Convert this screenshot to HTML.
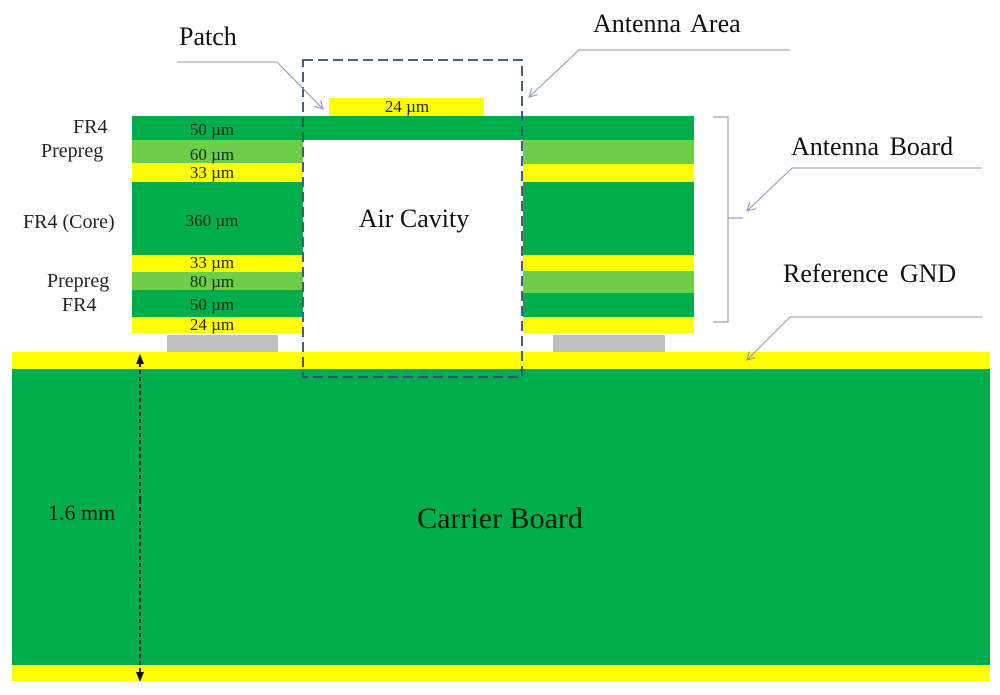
<!DOCTYPE html>
<html>
<head>
<meta charset="utf-8">
<style>
  html,body{margin:0;padding:0;background:#fff;}
  svg{display:block;}
  text{font-family:"Liberation Serif", "DejaVu Serif", serif;}
</style>
</head>
<body>
<svg width="1000" height="695" viewBox="0 0 1000 695" xmlns="http://www.w3.org/2000/svg">
  <defs>
    <marker id="open" viewBox="0 0 10 10" refX="9" refY="5" markerWidth="9" markerHeight="9" orient="auto" markerUnits="userSpaceOnUse">
      <path d="M0,0 L9,5 L0,10" fill="none" stroke="#8a9ab8" stroke-width="1.2"/>
    </marker>
    <marker id="solid" viewBox="0 0 10 10" refX="9" refY="5" markerWidth="10" markerHeight="10" orient="auto" markerUnits="userSpaceOnUse">
      <path d="M0,1 L10,5 L0,9 Z" fill="#111"/>
    </marker>
  </defs>

  <!-- Carrier board -->
  <rect x="12" y="352" width="978" height="17" fill="#ffff00"/>
  <rect x="12" y="369" width="978" height="296" fill="#00ad4d"/>
  <rect x="12" y="665" width="978" height="16" fill="#ffff00"/>

  <!-- Gray pads -->
  <rect x="167" y="335" width="111" height="17" fill="#bfbfbf"/>
  <rect x="553" y="335" width="112" height="17" fill="#bfbfbf"/>

  <!-- Top FR4 across -->
  <rect x="132" y="116" width="562" height="24" fill="#00ad4d"/>
  <!-- Patch -->
  <rect x="329" y="98" width="155" height="18" fill="#ffff00"/>

  <!-- Left stack -->
  <rect x="132" y="140" width="171" height="23" fill="#6ccf47"/>
  <rect x="132" y="163" width="171" height="19" fill="#ffff00"/>
  <rect x="132" y="182" width="171" height="73" fill="#00ad4d"/>
  <rect x="132" y="255" width="171" height="17" fill="#ffff00"/>
  <rect x="132" y="272" width="171" height="18" fill="#6ccf47"/>
  <rect x="132" y="290" width="171" height="27" fill="#00ad4d"/>
  <rect x="132" y="317" width="171" height="16" fill="#ffff00"/>

  <!-- Right stack -->
  <rect x="523" y="140" width="171" height="24" fill="#6ccf47"/>
  <rect x="523" y="164" width="171" height="18" fill="#ffff00"/>
  <rect x="523" y="182" width="171" height="73" fill="#00ad4d"/>
  <rect x="523" y="255" width="171" height="16" fill="#ffff00"/>
  <rect x="523" y="271" width="171" height="22" fill="#6ccf47"/>
  <rect x="523" y="293" width="171" height="24" fill="#00ad4d"/>
  <rect x="523" y="317" width="171" height="16" fill="#ffff00"/>

  <!-- Air cavity white -->
  <rect x="303" y="140" width="220" height="212" fill="#ffffff"/>

  <!-- Dashed antenna area -->
  <rect x="303" y="60" width="219" height="317" fill="none" stroke="#2f4d78" stroke-width="1.8" stroke-dasharray="10,5"/>

  <!-- Bracket -->
  <path d="M713,117 L728,117 L728,322 L713,322 M728,218 L743,218" fill="none" stroke="#9aa0b0" stroke-width="1.2"/>

  <!-- Callouts -->
  <path d="M177,62 L277,62 L323,109" fill="none" stroke="#8a9ab8" stroke-width="1.1" marker-end="url(#open)"/>
  <path d="M790,50 L579,50 L529,97" fill="none" stroke="#8a9ab8" stroke-width="1.1" marker-end="url(#open)"/>
  <path d="M982,168 L792,168 L747,211" fill="none" stroke="#8a9ab8" stroke-width="1.1" marker-end="url(#open)"/>
  <path d="M982,317 L790,317 L747,360" fill="none" stroke="#8a9ab8" stroke-width="1.1" marker-end="url(#open)"/>

  <!-- Dimension arrow -->
  <line x1="140" y1="500" x2="140" y2="355" stroke="#111" stroke-width="1.8" stroke-dasharray="4,3" marker-end="url(#solid)"/>
  <line x1="140" y1="500" x2="140" y2="681" stroke="#111" stroke-width="1.8" stroke-dasharray="4,3" marker-end="url(#solid)"/>

  <!-- Big labels -->
  <text x="179" y="45" font-size="26" fill="#111">Patch</text>
  <text x="593" y="32" font-size="26" fill="#111" word-spacing="4">Antenna Area</text>
  <text x="791" y="155" font-size="26" fill="#111" word-spacing="4">Antenna Board</text>
  <text x="783" y="282" font-size="26" fill="#111" word-spacing="5">Reference GND</text>
  <text x="414" y="227" font-size="26" fill="#111" text-anchor="middle">Air Cavity</text>
  <text x="500" y="528" font-size="30" fill="#0a1a0a" text-anchor="middle">Carrier Board</text>
  <text x="48" y="520" font-size="22" fill="#0a1a0a">1.6 mm</text>

  <!-- Left layer labels -->
  <text x="73" y="133" font-size="20" fill="#222">FR4</text>
  <text x="41" y="157" font-size="20" fill="#222">Prepreg</text>
  <text x="23" y="228" font-size="20" fill="#222">FR4 (Core)</text>
  <text x="47" y="287" font-size="20" fill="#222">Prepreg</text>
  <text x="62" y="311" font-size="20" fill="#222">FR4</text>

  <!-- Layer values -->
  <g font-size="17" fill="#1a2a10" text-anchor="middle">
    <text x="212" y="135">50 µm</text>
    <text x="212" y="160">60 µm</text>
    <text x="212" y="178">33 µm</text>
    <text x="212" y="226">360 µm</text>
    <text x="212" y="268">33 µm</text>
    <text x="212" y="287">80 µm</text>
    <text x="212" y="310">50 µm</text>
    <text x="212" y="330">24 µm</text>
    <text x="407" y="112">24 µm</text>
  </g>
</svg>
</body>
</html>
